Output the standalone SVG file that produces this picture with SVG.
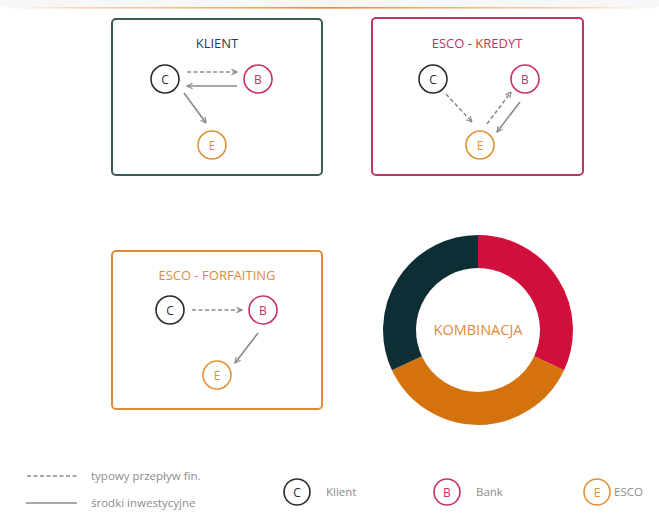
<svg xmlns="http://www.w3.org/2000/svg" width="659" height="514" viewBox="0 0 659 514">
  <defs>
    <linearGradient id="topLine" x1="0" y1="0" x2="1" y2="0">
      <stop offset="0" stop-color="#f6a04a" stop-opacity="0"/>
      <stop offset="0.15" stop-color="#f6b070" stop-opacity="0.6"/>
      <stop offset="0.5" stop-color="#f08a1c"/>
      <stop offset="0.85" stop-color="#f6b070" stop-opacity="0.6"/>
      <stop offset="1" stop-color="#f6a04a" stop-opacity="0"/>
    </linearGradient>
    <marker id="arrow" viewBox="0 0 10 10" refX="9" refY="5" markerWidth="7" markerHeight="7" markerUnits="userSpaceOnUse" orient="auto">
      <path d="M1,1 L9,5 L1,9" fill="none" stroke="#8a8a8a" stroke-width="1.6"/>
    </marker>
  </defs>
  <style>
    text { font-family: "Open Sans", "Noto Sans", "Liberation Sans", sans-serif; }
    .frame { fill: #ffffff; stroke-width: 2; }
    .title { font-size: 13px; text-anchor: middle; }
    .node { fill: #ffffff; stroke-width: 1.6; }
    .letter { font-size: 12px; text-anchor: middle; dominant-baseline: central; }
    .flow { stroke: #8a8a8a; stroke-width: 1.6; fill: none; marker-end: url(#arrow); }
    .dash { stroke-dasharray: 4 2.5; }
    .c { stroke: #2b2b2b; }
    .b { stroke: #c8325e; }
    .e { stroke: #e39234; }
    .tc { fill: #2b2b2b; }
    .tb { fill: #c8325e; }
    .te { fill: #e39234; }
    .legend { font-size: 11.5px; fill: #8c8c8c; }
  </style>

  <rect width="659" height="514" fill="#ffffff"/>
  <rect width="659" height="7" fill="#f7f7f7"/>
  <rect x="0" y="7" width="659" height="1.6" fill="url(#topLine)"/>

  <!-- KLIENT -->
  <g id="panel-klient">
    <rect class="frame" x="112" y="19" width="210" height="156" rx="4" stroke="#3c5a58"/>
    <text class="title" x="217" y="48" fill="#2c3a4c">KLIENT</text>
    <g id="klient-c"><circle class="node c" cx="165" cy="79" r="14"/><text class="letter tc" x="165" y="79">C</text></g>
    <g id="klient-b"><circle class="node b" cx="258" cy="79" r="14"/><text class="letter tb" x="258" y="79">B</text></g>
    <g id="klient-e"><circle class="node e" cx="212" cy="145" r="14"/><text class="letter te" x="212" y="145">E</text></g>
  </g>

  <!-- ESCO - KREDYT -->
  <g id="panel-kredyt">
    <rect class="frame" x="372" y="18" width="211" height="157" rx="4" stroke="#c3335e"/>
    <text class="title" x="477" y="48" fill="#c3335e">ESCO - KREDYT</text>
    <g id="kredyt-c"><circle class="node c" cx="433" cy="79" r="14"/><text class="letter tc" x="433" y="79">C</text></g>
    <g id="kredyt-b"><circle class="node b" cx="525" cy="79" r="14"/><text class="letter tb" x="525" y="79">B</text></g>
    <g id="kredyt-e"><circle class="node e" cx="480" cy="145" r="14"/><text class="letter te" x="480" y="145">E</text></g>
  </g>

  <!-- ESCO - FORFAITING -->
  <g id="panel-forfaiting">
    <rect class="frame" x="112" y="251" width="210" height="158" rx="4" stroke="#e08a3a"/>
    <text class="title" x="217" y="280" fill="#e08a3a">ESCO -  FORFAITING</text>
    <g id="forf-c"><circle class="node c" cx="170" cy="310" r="14"/><text class="letter tc" x="170" y="310">C</text></g>
    <g id="forf-b"><circle class="node b" cx="263" cy="310" r="14"/><text class="letter tb" x="263" y="310">B</text></g>
    <g id="forf-e"><circle class="node e" cx="217" cy="375" r="14"/><text class="letter te" x="217" y="375">E</text></g>
  </g>

  <!-- KOMBINACJA ring -->
  <g id="kombinacja">
    <!-- ring centre (478,330), mid radius 78.5, thickness 33 -->
    <path d="M478,251.5 A78.5,78.5 0 0 1 549.1,363.2" fill="none" stroke="#d0103a" stroke-width="33"/>
    <path d="M549.1,363.2 A78.5,78.5 0 0 1 406.9,363.2" fill="none" stroke="#d4720e" stroke-width="33"/>
    <path d="M406.9,363.2 A78.5,78.5 0 0 1 478,251.5" fill="none" stroke="#0d2e35" stroke-width="33"/>
    <text x="478" y="335" font-size="14.5" text-anchor="middle" fill="#e08a3a">KOMBINACJA</text>
  </g>

  <!-- connectors -->
  <g id="connectors">
    <line class="flow dash" x1="187" y1="72" x2="237" y2="72"/>
    <line class="flow" x1="237" y1="86" x2="187" y2="86"/>
    <line class="flow" x1="184" y1="93" x2="206" y2="123"/>

    <line class="flow dash" x1="446" y1="94" x2="472" y2="122"/>
    <line class="flow dash" x1="487" y1="124" x2="511" y2="92"/>
    <line class="flow" x1="520" y1="102" x2="497" y2="132"/>

    <line class="flow dash" x1="192" y1="310" x2="242" y2="310"/>
    <line class="flow" x1="258" y1="333" x2="235" y2="363"/>
  </g>

  <!-- legend -->
  <g id="legend">
    <line x1="27" y1="476" x2="77" y2="476" stroke="#8a8a8a" stroke-width="1.6" stroke-dasharray="4 2.5"/>
    <text class="legend" x="91" y="480">typowy przepływ fin.</text>
    <line x1="26" y1="503" x2="77" y2="503" stroke="#8a8a8a" stroke-width="1.6"/>
    <text class="legend" x="91" y="507">środki inwestycyjne</text>

    <g id="legend-c"><circle class="node c" cx="297" cy="492" r="13"/><text class="letter tc" x="297" y="492">C</text></g>
    <text class="legend" x="326" y="496" font-size="12.5">Klient</text>
    <g id="legend-b"><circle class="node b" cx="447" cy="492" r="13"/><text class="letter tb" x="447" y="492">B</text></g>
    <text class="legend" x="476" y="496" font-size="12.5">Bank</text>
    <g id="legend-e"><circle class="node e" cx="597" cy="492" r="13"/><text class="letter te" x="597" y="492">E</text></g>
    <text class="legend" x="614" y="496" font-size="12.5">ESCO</text>
  </g>
</svg>
